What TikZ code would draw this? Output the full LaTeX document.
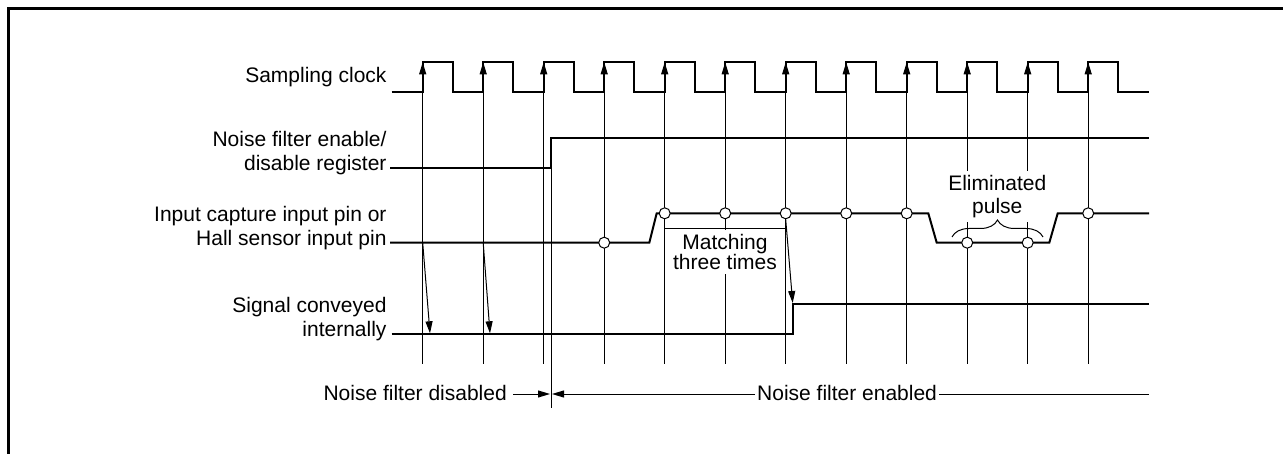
\documentclass[tikz,border=0pt]{standalone}
\usepackage{fontspec}
\setmainfont{Liberation Sans}
\usetikzlibrary{arrows.meta,positioning,calc,decorations.pathreplacing}
\tikzset{
  lbl/.style={font=\fontsize{21}{24}\selectfont, align=right, inner sep=0pt},
  note/.style={font=\fontsize{21}{23}\selectfont, align=center, fill=white, inner sep=4pt},
  span/.style={font=\fontsize{21}{24}\selectfont, inner xsep=2pt, inner ysep=0pt},
  wave/.style={draw=black, line width=2pt, line join=miter},
  grid/.style={draw=black, line width=1pt},
  ar/.style={-{Triangle[length=12pt,width=7pt]}, draw=black, line width=1pt},
  smp/.style={circle, draw=black, fill=white, line width=1pt, minimum size=11pt, inner sep=0pt},
  frame/.style={draw=black, line width=3pt},
}
\begin{document}
\begin{tikzpicture}[x=1pt, y=-1pt]
  \useasboundingbox (0,0) rectangle (1283,454);
  \draw[frame] (1290,9) -- (8,9) -- (8,460);

  \node[lbl, anchor=base east] (clk) at (386.7,82.7) {Sampling clock};
  \node[lbl, anchor=base east] (reg) at (386.7,170.5) {Noise filter enable/\\disable register};
  \node[lbl, anchor=base east] (pin) at (386.7,245.5) {Input capture input pin or\\Hall sensor input pin};
  \node[lbl, anchor=base east] (int) at (386.7,336.7) {Signal conveyed\\internally};

  \foreach \k in {0,...,11} {
    \pgfmathsetmacro{\ex}{422.7+60.5*\k}
    \draw[ar] (\ex,364) -- (\ex,62.3);
  }
  \draw[grid] (551,137.7) -- (551,408.3);

  \draw[wave] (391.7,92.3) \foreach \k in {0,...,11} {
    -- ({422.7+60.5*\k},92.3) -- ++(0,-30) -- ++(30,0) -- ++(0,30) } -- (1149,92.3);
  \draw[wave] (390,167.7) -- (551,167.7) -- (551,137.7) -- (1149,137.7);
  \draw[wave] (390,242.7) -- (649.3,242.7) -- (656.7,213.3) -- (928.3,213.3)
    -- (936.7,242.7) -- (1049.3,242.7) -- (1057.7,213.3) -- (1149,213.3);
  \draw[wave] (391.7,334.3) -- (793.3,334.3) -- (793.3,304) -- (1149,304);

  \foreach \k/\y in {3/242.7,4/213.3,5/213.3,6/213.3,7/213.3,8/213.3,9/242.7,10/242.7,11/213.3}
    \node[smp] (s\k) at ({422.7+60.5*\k},\y) {};

  \draw[ar] (422.7,242.7) -- (430,333.3);
  \draw[ar] (483.2,242.7) -- (490,333.3);
  \draw[ar] (s6.south) -- (792.7,303);

  \draw[grid] (664.7,228.3) -- (785.7,228.3);
  \node[note, font=\fontsize{21}{19.5}\selectfont, anchor=base] (match) at (725,270) {Matching\\three times};
  \node[note, anchor=base] (elim) at (997.3,213.3) {Eliminated\\pulse};
  \draw[grid, decorate, decoration={brace, amplitude=17pt}] (952,237) -- (1043,237);

  \coordinate (swl) at (550,394);
  \coordinate (swr) at (552,394);
  \node[span, inner xsep=6pt, anchor=base east] (dis) at (513,400) {Noise filter disabled};
  \node[span, anchor=base west] (ena) at (755,400) {Noise filter enabled};
  \draw[ar] (dis.east |- swl) -- (swl);
  \draw[ar] (ena.west |- swr) -- (swr);
  \draw[grid] (ena.east |- swr) -- (1149,394);
\end{tikzpicture}
\end{document}
